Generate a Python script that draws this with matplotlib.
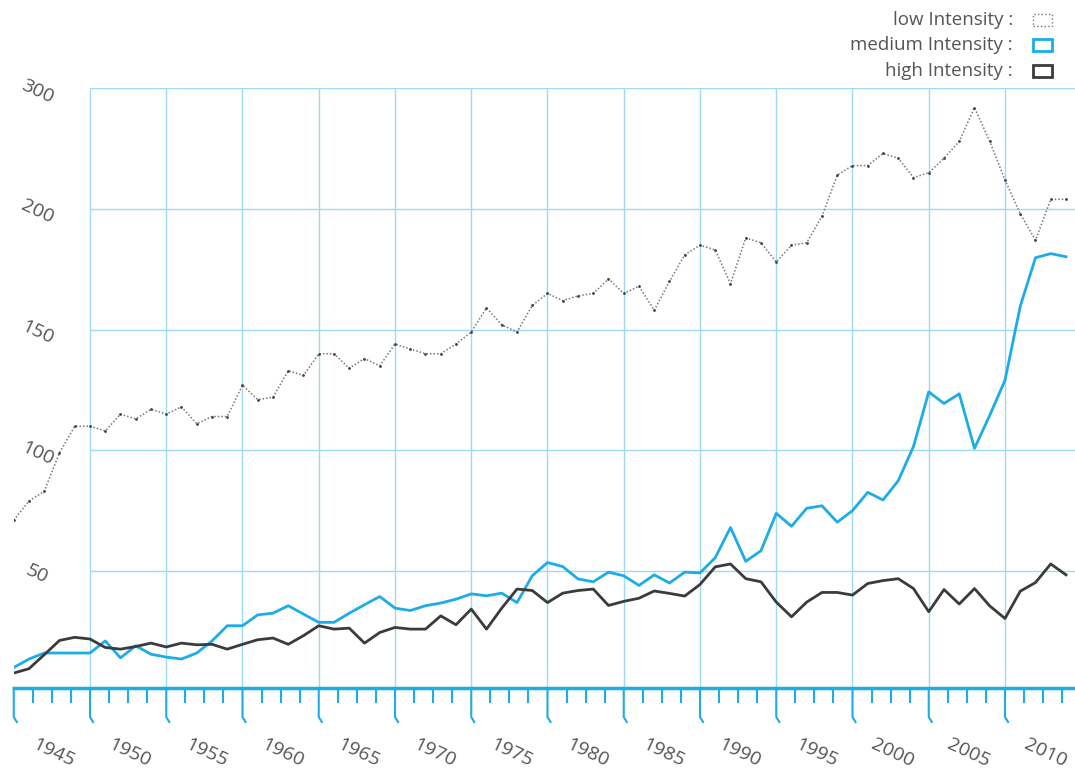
import numpy as np
import matplotlib.pyplot as plt
from matplotlib.patches import Rectangle
from matplotlib.transforms import blended_transform_factory

# data, one value per year 1945-2014
years = np.arange(1945, 2015)
low = [71, 79, 83, 99, 110, 110, 108, 115, 113, 117,
       115, 118, 111, 114, 114, 127, 121, 122, 133, 131,
       140, 140, 134, 138, 135, 144, 142, 140, 140, 144,
       149, 159, 152, 149, 160, 165, 162, 164, 165, 171,
       165, 168, 158, 170, 181, 185, 183, 169, 188, 186,
       178, 185, 186, 197, 214, 218, 218, 223, 221, 213,
       215, 221, 228, 242, 228, 212, 198, 187, 204, 204]
medium = [10, 13.5, 16, 16, 16, 16, 21, 14, 19, 15.5,
          14.3, 13.5, 16, 21, 27.3, 27.3, 31.8, 32.5, 35.6, 32.1,
          28.7, 28.7, 32.5, 36, 39.4, 34.6, 33.6, 35.6, 36.7, 38.3,
          40.5, 39.7, 40.8, 36.9, 48, 53.5, 51.8, 46.7, 45.5, 49.5,
          48, 44, 48.4, 45, 49.5, 49.2, 55.5, 68, 54, 58.4,
          73.9, 68.5, 76, 77, 70.2, 75, 82.6, 79.4, 87.4, 101.6,
          124.2, 119.4, 123.4, 100.8, 114.5, 129, 159.7, 179.8, 181.5, 180.2]
high = [7.7, 9.5, 15.3, 21.2, 22.5, 21.8, 18.3, 17.6, 18.7, 20.1,
        18.5, 20.1, 19.4, 19.6, 17.6, 19.6, 21.5, 22.2, 19.6, 23.2,
        27.3, 25.9, 26.3, 20.1, 24.5, 26.6, 25.9, 25.9, 31.4, 27.7,
        34.2, 25.9, 34.6, 42.5, 41.9, 36.9, 40.8, 41.9, 42.5, 35.7,
        37.4, 38.7, 41.7, 40.7, 39.6, 44.4, 51.7, 52.9, 46.8, 45.5,
        37.1, 31, 37.1, 41.1, 41.1, 40, 44.8, 46, 46.8, 42.7,
        33.1, 42.3, 36.3, 42.7, 35.5, 30.3, 41.6, 45.2, 52.9, 48.4]

ytick_vals = [50, 100, 150, 200, 250]
ytick_labels = ['50', '100', '150', '200', '300']
xtick_years = list(range(1945, 2011, 5))
legend_labels = ['low Intensity :', 'medium Intensity :', 'high Intensity :']

W, H = 1075, 774
blue = '#1cace6'
grid_c = '#a0d9f3'
dark = '#3b3b3b'
txt_c = '#555555'
font = 'Open Sans'

fig = plt.figure(figsize=(W / 100, H / 100), dpi=100)
x_left = 13.75
px_year = 15.25
x_max = 1945 + (W - x_left) / px_year
ax = fig.add_axes([x_left / W, 1 - 688 / H, (W - x_left) / W, (688 - 88.3) / H])
ax.set_xlim(1945, x_max)
ax.set_ylim(1.5, 250)
for s in ['top', 'right', 'left']:
    ax.spines[s].set_visible(False)
ax.spines['bottom'].set_color(blue)
ax.spines['bottom'].set_linewidth(2.5)

# grid
ax.hlines(ytick_vals, 1950, x_max, color=grid_c, lw=1, zorder=1)
ax.vlines(range(1950, 2011, 5), 1.5, 250, color=grid_c, lw=1, zorder=1)

# lines
ax.plot(years, low, color='#777777', lw=1.1, linestyle=(0, (1, 1.3)), zorder=3)
ax.plot(years, low, linestyle='none', marker='.', ms=2, color='#444444', zorder=3)
ax.plot(years, medium, color=blue, lw=2, zorder=4)
ax.plot(years, high, color=dark, lw=2, zorder=4)

# ticks
ax.set_yticks([])
ax.set_xticks([])
minor = [1945 + 1.25 * i for i in range(int((x_max - 1945) / 1.25) + 1)]
minor = [m for m in minor if (m - 1945) % 5 != 0]
ax.set_xticks(minor, minor=True)
ax.tick_params(axis='x', which='minor', length=11, width=1.5, color=blue, labelbottom=False)

# major ticks with the little hook, and slanted year labels
tr = blended_transform_factory(ax.transData, fig.transFigure)
for yr in xtick_years:
    ax.plot([yr, yr, yr + 0.2], [1 - 688 / H, 1 - 717 / H, 1 - 722 / H],
            transform=tr, color=blue, lw=1.5, clip_on=False)
    ax.text(yr + 40 / px_year, 1 - 753 / H, str(yr), transform=tr, rotation=-25,
            ha='center', va='center', fontsize=14, color=txt_c, family=font)

for v, lab in zip(ytick_vals, ytick_labels):
    ax.text(1945 + (37.5 - x_left) / px_year, v - 1.2, lab, rotation=-25,
            ha='center', va='center', fontsize=14, color=txt_c, family=font, zorder=5)

# legend
ys = [20, 45, 71]
for lab, y in zip(legend_labels, ys):
    fig.text(1013 / W, 1 - y / H, lab, ha='right', va='center', fontsize=13.5,
             color=txt_c, family=font)
styles = [('#777777', 1, ':'), (blue, 2, '-'), (dark, 2, '-')]
for (c, lw, ls), y in zip(styles, ys):
    fig.patches.append(Rectangle((1033 / W, 1 - (y + 6) / H), 19 / W, 12 / H,
                                 fill=False, edgecolor=c, lw=lw, linestyle=ls,
                                 transform=fig.transFigure))

fig.savefig('out.png', dpi=100)
